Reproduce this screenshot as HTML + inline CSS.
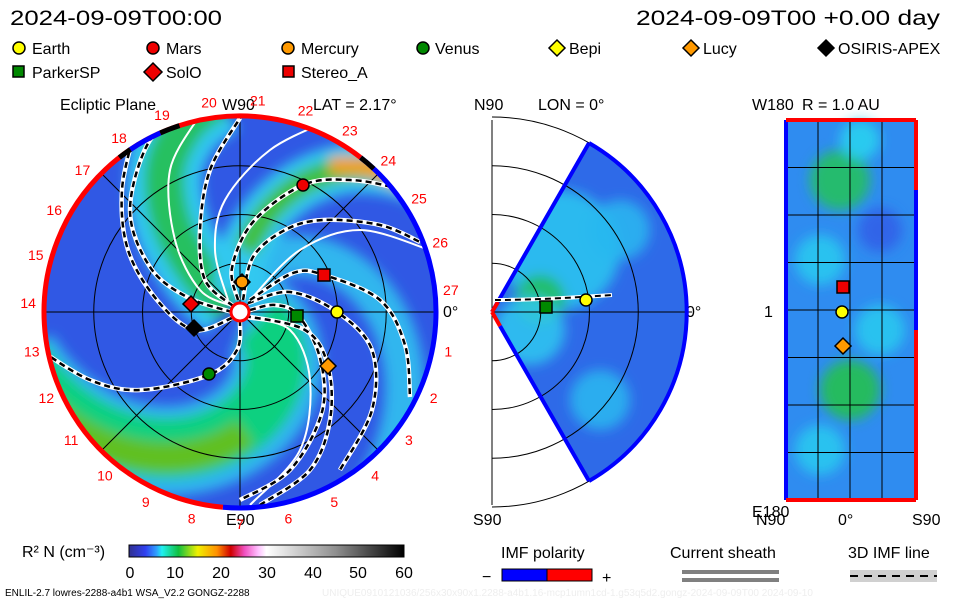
<!DOCTYPE html>
<html><head><meta charset="utf-8"><style>
body{margin:0;background:#fff;width:960px;height:600px;overflow:hidden}
svg text{font-family:"Liberation Sans",sans-serif}
</style></head><body>
<svg id="s" width="960" height="600" xmlns="http://www.w3.org/2000/svg">
<defs>
<linearGradient id="cb" x1="0" x2="1">
<stop offset="0" stop-color="#303090"/><stop offset="0.06" stop-color="#3040f0"/><stop offset="0.1" stop-color="#30a0ff"/><stop offset="0.12" stop-color="#20f0f0"/><stop offset="0.18" stop-color="#10c040"/><stop offset="0.25" stop-color="#f0f000"/><stop offset="0.32" stop-color="#ff9000"/><stop offset="0.37" stop-color="#d00000"/><stop offset="0.42" stop-color="#f050c0"/><stop offset="0.47" stop-color="#ffc0ff"/><stop offset="0.5" stop-color="#ffffff"/><stop offset="0.75" stop-color="#909090"/><stop offset="1" stop-color="#000"/>
</linearGradient>
<clipPath id="dc"><circle cx="240" cy="312" r="195"/></clipPath>
<clipPath id="wc"><path d="M492,312 L589,143 A195,195 0 0 1 589,481 Z"/></clipPath>
<filter id="bl"><feGaussianBlur stdDeviation="6"/></filter>
</defs>
<text x="10" y="25" font-size="21" textLength="212" lengthAdjust="spacingAndGlyphs">2024-09-09T00:00</text>
<text x="636" y="25" font-size="21" textLength="304" lengthAdjust="spacingAndGlyphs">2024-09-09T00 +0.00 day</text>
<g font-size="16">
<circle cx="19" cy="48" r="6" fill="#ff0" stroke="#000" stroke-width="1.5"/><text x="32" y="54">Earth</text>
<circle cx="153" cy="48" r="6" fill="#e00" stroke="#000" stroke-width="1.5"/><text x="166" y="54">Mars</text>
<circle cx="288" cy="48" r="6" fill="#f90" stroke="#000" stroke-width="1.5"/><text x="301" y="54">Mercury</text>
<circle cx="423" cy="48" r="6" fill="#080" stroke="#000" stroke-width="1.5"/><text x="435" y="54">Venus</text>
<path d="M557,40 l8,8 -8,8 -8,-8z" fill="#ff0" stroke="#000" stroke-width="1.5"/><text x="569" y="54">Bepi</text>
<path d="M691,40 l8,8 -8,8 -8,-8z" fill="#f90" stroke="#000" stroke-width="1.5"/><text x="703" y="54">Lucy</text>
<path d="M826,40 l8,8 -8,8 -8,-8z" fill="#000" stroke="#000" stroke-width="1.5"/><text x="838" y="54">OSIRIS-APEX</text>
<rect x="13" y="66" width="11" height="11" fill="#080" stroke="#000" stroke-width="1.5"/><text x="32" y="78">ParkerSP</text>
<path d="M153,63 l9,9 -9,9 -9,-9z" fill="#e00" stroke="#000" stroke-width="1.5"/><text x="166" y="78">SolO</text>
<rect x="283" y="66" width="11" height="11" fill="#e00" stroke="#000" stroke-width="1.5"/><text x="301" y="78">Stereo_A</text>
<text x="60" y="110">Ecliptic Plane</text><text x="222" y="110">W90</text><text x="313" y="110">LAT = 2.17°</text>
<text x="474" y="110">N90</text><text x="538" y="110">LON = 0°</text>
<text x="752" y="110">W180</text><text x="802" y="110">R = 1.0 AU</text>
<text x="226" y="525">E90</text><text x="473" y="525">S90</text><text x="752" y="517">E180</text>
<text x="443" y="317">0°</text><text x="686" y="317">0°</text><text x="764" y="317">1</text>
<text x="756" y="525">N90</text><text x="838" y="525">0°</text><text x="912" y="525">S90</text>
</g>
<g id="disk" clip-path="url(#dc)"><circle cx="240" cy="312" r="195" fill="#3058e4"/></g>
<g id="wedge" clip-path="url(#wc)"><rect x="480" y="130" width="220" height="360" fill="#2e6ae8"/></g>
<g id="rp"><rect x="786" y="120" width="130" height="380" fill="#2f8cf0"/></g>
<g id="over"></g>
<g font-size="16">
<text x="22" y="557">R² N (cm⁻³)</text>
<rect x="129" y="545" width="275" height="12" fill="url(#cb)" stroke="#000"/>
<g text-anchor="middle"><text x="130" y="578">0</text><text x="175" y="578">10</text><text x="221" y="578">20</text><text x="267" y="578">30</text><text x="313" y="578">40</text><text x="358" y="578">50</text><text x="404" y="578">60</text></g>
<text x="501" y="558">IMF polarity</text><text x="670" y="558">Current sheath</text><text x="848" y="558">3D IMF line</text>
<text x="482" y="582">−</text><text x="602" y="583">+</text>
</g>
<rect x="502" y="569" width="45" height="12" fill="#00f" stroke="#000"/><rect x="547" y="569" width="45" height="12" fill="#f00" stroke="#000"/>
<rect x="682" y="570" width="97" height="4" fill="#808080"/><rect x="682" y="578" width="97" height="4" fill="#808080"/>
<rect x="850" y="570" width="87" height="12" fill="#d0d0d0"/><line x1="850" y1="576" x2="937" y2="576" stroke="#000" stroke-width="2" stroke-dasharray="8,6"/>
<text x="5" y="596" font-size="10">ENLIL-2.7 lowres-2288-a4b1 WSA_V2.2 GONGZ-2288</text>
<text x="322" y="596" font-size="10" fill="#eee">UNIQUE0910121036/256x30x90x1.2288-a4b1.16-mcp1umn1cd-1.g53q5d2.gongz-2024-09-09T00    2024-09-10</text>
</svg>
<script>
const NS="http://www.w3.org/2000/svg";
function el(p,t,a){const e=document.createElementNS(NS,t);for(const k in a)e.setAttribute(k,a[k]);p.appendChild(e);return e;}
const cx=240,cy=312,R=195,K=0.012;
const disk=document.getElementById('disk');
function spiral(phi0deg,r0,r1,k){k=k||K;const p0=phi0deg*Math.PI/180;let d="";for(let r=r0;r<=r1;r+=3){const f=p0-k*r;d+=(d?"L":"M")+(cx+r*Math.cos(f)).toFixed(1)+","+(cy-r*Math.sin(f)).toFixed(1);}return d;}
function cr(pts){let d=`M${pts[0][0]},${pts[0][1]}`;for(let i=0;i<pts.length-1;i++){const p0=pts[i-1]||pts[i],p1=pts[i],p2=pts[i+1],p3=pts[i+2]||p2;
d+=`C${p1[0]+(p2[0]-p0[0])/6},${p1[1]+(p2[1]-p0[1])/6} ${p2[0]-(p3[0]-p1[0])/6},${p2[1]-(p3[1]-p1[1])/6} ${p2[0]},${p2[1]}`;}return d;}
const bands=el(disk,'g',{filter:'url(#bl)'});
// cyan halos
[[-10,90],[100,40]].forEach(([p,w])=>el(bands,'path',{d:spiral(p,5,230),stroke:'#30c0f0','stroke-width':w,fill:'none',opacity:0.9}));
const armA=[[232,305],[200,275],[172,225],[165,170],[185,125],[215,100]];
const armC=[[238,295],[245,250],[270,210],[310,180],[360,168],[420,180],[450,210]];
el(bands,'path',{d:cr(armA),stroke:'#30c8f0','stroke-width':75,fill:'none'});
el(bands,'path',{d:cr(armA),stroke:'#28c060','stroke-width':40,fill:'none'});
el(bands,'path',{d:cr(armC),stroke:'#30c8f0','stroke-width':50,fill:'none'});
el(bands,'path',{d:cr(armC.slice(1)),stroke:'#40c040','stroke-width':24,fill:'none'});
el(bands,'path',{d:cr([[330,165],[370,168],[410,185]]),stroke:'#f0a020','stroke-width':18,fill:'none'});
el(bands,'path',{d:spiral(-12,20,230),stroke:'#10d080','stroke-width':60,fill:'none'});
el(bands,'path',{d:spiral(-5,120,230),stroke:'#60c020','stroke-width':30,fill:'none'});
[48.75,97.5,146.25].forEach(r=>el(disk,'circle',{cx,cy,r,fill:'none',stroke:'#000','stroke-width':1}));
for(let a=0;a<180;a+=45){const c=Math.cos(a*Math.PI/180)*R,s=Math.sin(a*Math.PI/180)*R;el(disk,'line',{x1:cx-c,y1:cy-s,x2:cx+c,y2:cy+s,stroke:'#000'});}
[[[250,300],[300,250],[360,230],[430,250]],[[245,318],[290,330],[310,380],[300,450],[250,505]],[[232,306],[200,290],[175,240],[170,170],[200,115]],[[228,300],[215,250],[225,200],[270,150],[330,120]]].forEach(p=>el(disk,'path',{d:cr(p),stroke:'#fff','stroke-width':2,fill:'none'}));
const lines=[
[[248,303],[290,292],[337,312],[372,350],[372,410],[340,470]],
[[250,300],[293,273],[324,275],[380,300],[405,345],[410,397]],
[[238,300],[232,268],[253,222],[303,185],[350,180],[395,188],[440,205]],
[[243,300],[253,257],[285,230],[323,220],[380,225],[420,242]],
[[250,310],[275,305],[298,315],[320,358],[322,412],[290,470],[240,500]],
[[245,316],[305,330],[328,366],[330,420],[310,470],[260,505]],
[[240,320],[237,350],[209,375],[140,390],[90,380],[40,350]],
[[232,312],[187,297],[150,267],[130,210],[150,140],[187,120]],
[[232,318],[194,330],[157,300],[128,250],[122,190],[135,130]],
[[233,306],[205,280],[200,230],[210,170],[240,118]]
];
lines.forEach(p=>{const d=cr(p);el(disk,'path',{d,stroke:'#fff','stroke-width':4.5,fill:'none'});el(disk,'path',{d,stroke:'#000','stroke-width':2.5,fill:'none','stroke-dasharray':'6,4'});});
const ov=document.getElementById('over');
function arc(r,a0,a1,col,w){const p=a=>[cx+r*Math.cos(a*Math.PI/180),cy-r*Math.sin(a*Math.PI/180)];const [x0,y0]=p(a0),[x1,y1]=p(a1);
el(ov,'path',{d:`M${x0},${y0} A${r},${r} 0 ${Math.abs(a1-a0)>180?1:0} 0 ${x1},${y1}`,stroke:col,'stroke-width':w,fill:'none'});}
arc(196,52,265,'#f00',5);arc(196,-95,52,'#00f',5);arc(196,114,124,'#00f',5);arc(196,108,114,'#000',5);arc(196,124,128,'#000',5);arc(196,47,52,'#000',5);
el(ov,'circle',{cx,cy,r:9,fill:'#fff',stroke:'#f00','stroke-width':3});
for(let i=1;i<28;i++){const a=(6+(27-i)*13.2)*Math.PI/180;const t=el(ov,'text',{x:cx+212*Math.cos(a),y:cy-212*Math.sin(a)+5,'font-size':14,fill:'#f00','text-anchor':'middle'});t.textContent=i;}
function circ(x,y,c){el(ov,'circle',{cx:x,cy:y,r:6,fill:c,stroke:'#000','stroke-width':1.5});}
function sq(x,y,c){el(ov,'rect',{x:x-6,y:y-6,width:12,height:12,fill:c,stroke:'#000','stroke-width':1.5});}
function dm(x,y,c){el(ov,'path',{d:`M${x},${y-8}l8,8 -8,8 -8,-8z`,fill:c,stroke:'#000','stroke-width':1.5});}
circ(337,312,'#ff0');circ(303,185,'#e00');dm(242,282,'#f90');circ(242,282,'#f90');circ(209,374,'#080');sq(297,316,'#080');sq(324,275,'#e00');
dm(191,304,'#e00');dm(194,328,'#000');dm(328,366,'#f90');
const w=document.getElementById('wedge');const wx=492;
const wg=el(w,'g',{filter:'url(#bl)'});
[[560,250,'#28c8f0',60],[540,300,'#22c050',25],[620,230,'#28b8f0',30],[600,400,'#28b8f0',30],[530,330,'#30c8f0',35]].forEach(([x,y,c,r])=>el(wg,'circle',{cx:x,cy:y,r,fill:c,opacity:0.85}));
[48.75,97.5,146.25,195].forEach(r=>el(ov,'path',{d:`M${wx},${cy-r} A${r},${r} 0 0 1 ${wx},${cy+r}`,stroke:'#000',fill:'none'}));
el(ov,'line',{x1:wx,y1:120,x2:wx,y2:505,stroke:'#000'});
el(ov,'line',{x1:wx,y1:cy,x2:wx+200,y2:cy,stroke:'#000'});
el(ov,'line',{x1:wx,y1:cy,x2:589,y2:143,stroke:'#00f','stroke-width':4});el(ov,'line',{x1:wx+8,y1:cy+14,x2:589,y2:481,stroke:'#00f','stroke-width':4});
el(ov,'line',{x1:wx,y1:cy,x2:wx+8,y2:cy+14,stroke:'#f00','stroke-width':4});el(ov,'line',{x1:wx,y1:cy,x2:wx+6,y2:cy-10,stroke:'#f00','stroke-width':4});
el(ov,'path',{d:'M589,143 A195,195 0 0 1 589,481',stroke:'#00f','stroke-width':4,fill:'none'});
el(ov,'path',{d:'M495,300 Q540,300 612,295',stroke:'#fff','stroke-width':4,fill:'none'});el(ov,'path',{d:'M495,300 Q540,300 612,295',stroke:'#000','stroke-width':2,'stroke-dasharray':'6,4',fill:'none'});
sq(546,307,'#080');circ(586,300,'#ff0');
const rp=document.getElementById('rp');const rg=el(rp,'g',{filter:'url(#bl)'});
[[840,180,'#22c060',30],[820,260,'#28c8f0',25],[850,390,'#22c050',30],[880,330,'#28c8f0',25],[820,450,'#28c8f0',25],[880,230,'#3060e8',22],[860,140,'#28d0f0',20]].forEach(([x,y,c,r])=>el(rg,'circle',{cx:x,cy:y,r,fill:c,opacity:0.9}));
for(let i=1;i<8;i++)el(ov,'line',{x1:786,y1:120+i*47.5,x2:916,y2:120+i*47.5,stroke:'#000'});
[818,850,882].forEach(x=>el(ov,'line',{x1:x,y1:120,x2:x,y2:500,stroke:'#000'}));
el(ov,'line',{x1:786,y1:120,x2:786,y2:500,stroke:'#00f','stroke-width':4});
el(ov,'line',{x1:916,y1:120,x2:916,y2:190,stroke:'#f00','stroke-width':4});el(ov,'line',{x1:916,y1:190,x2:916,y2:330,stroke:'#00f','stroke-width':4});el(ov,'line',{x1:916,y1:330,x2:916,y2:500,stroke:'#f00','stroke-width':4});
el(ov,'line',{x1:786,y1:120,x2:916,y2:120,stroke:'#f00','stroke-width':4});el(ov,'line',{x1:786,y1:500,x2:916,y2:500,stroke:'#f00','stroke-width':4});
sq(843,287,'#e00');circ(842,312,'#ff0');dm(843,346,'#f90');
</script>
</body></html>
